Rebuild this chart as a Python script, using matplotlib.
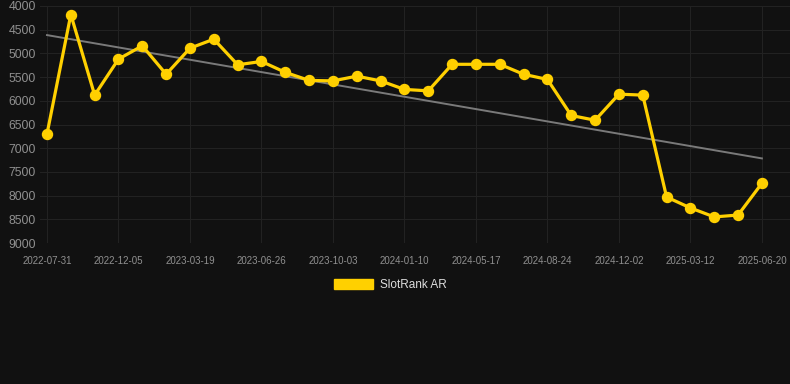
import numpy as np
import matplotlib
matplotlib.use("Agg")
import matplotlib.pyplot as plt
from matplotlib.patches import Patch

plt.rcParams['font.family'] = ['Liberation Sans', 'DejaVu Sans']

tick_labels = ["2022-07-31", "2022-12-05", "2023-03-19", "2023-06-26", "2023-10-03",
               "2024-01-10", "2024-05-17", "2024-08-24", "2024-12-02", "2025-03-12",
               "2025-06-20"]
values = [6700, 4180, 5880, 5120, 4840, 5440, 4890, 4700, 5240, 5170,
          5400, 5570, 5580, 5480, 5580, 5760, 5790, 5230, 5230, 5230,
          5440, 5550, 6310, 6410, 5860, 5880, 8030, 8260, 8450, 8410, 7740]
series_name = "SlotRank AR"
y_ticks = [4000, 4500, 5000, 5500, 6000, 6500, 7000, 7500, 8000, 8500, 9000]

bg = "#111111"
yellow = "#FFD000"

W, H = 790, 384
fig = plt.figure(figsize=(W / 100, H / 100), dpi=100, facecolor=bg)
ax = fig.add_axes([40 / W, 1 - 243 / H, 750 / W, 237 / H], facecolor=bg)

x = np.arange(len(values))
# trend line (linear regression)
coef = np.polyfit(x, values, 1)
ax.plot([x[0], x[-1]], np.polyval(coef, [x[0], x[-1]]), color="#7a7a7a", lw=1.4, zorder=2)

ax.plot(x, values, color=yellow, lw=2.3, marker="o", ms=7.2, mfc=yellow, mec=yellow, zorder=3)

step = 23.83
ax.set_xlim(-7 / step, (790 - 47) / step)
ax.set_ylim(9000, 4000)
ax.set_yticks(y_ticks)
ax.set_yticklabels([str(v) for v in y_ticks])
ax.set_xticks(x[::3])
ax.set_xticklabels(tick_labels)

ax.grid(True, color="#222222", lw=0.8)
ax.set_axisbelow(True)
for s in ax.spines.values():
    s.set_visible(False)
ax.tick_params(axis="y", length=0, pad=3, labelsize=8.8, labelcolor="#909090")
ax.tick_params(axis="x", length=0, pad=9, labelsize=7, labelcolor="#909090")

handle = Patch(facecolor=yellow, edgecolor=yellow)
leg = fig.legend([handle], [series_name], loc="center", bbox_to_anchor=(390 / W, 1 - 285 / H),
                 frameon=False, fontsize=8.5, handlelength=3.3, handleheight=0.9,
                 handletextpad=0.6, labelcolor="#dddddd")

fig.savefig("out.png", dpi=100, facecolor=bg)
